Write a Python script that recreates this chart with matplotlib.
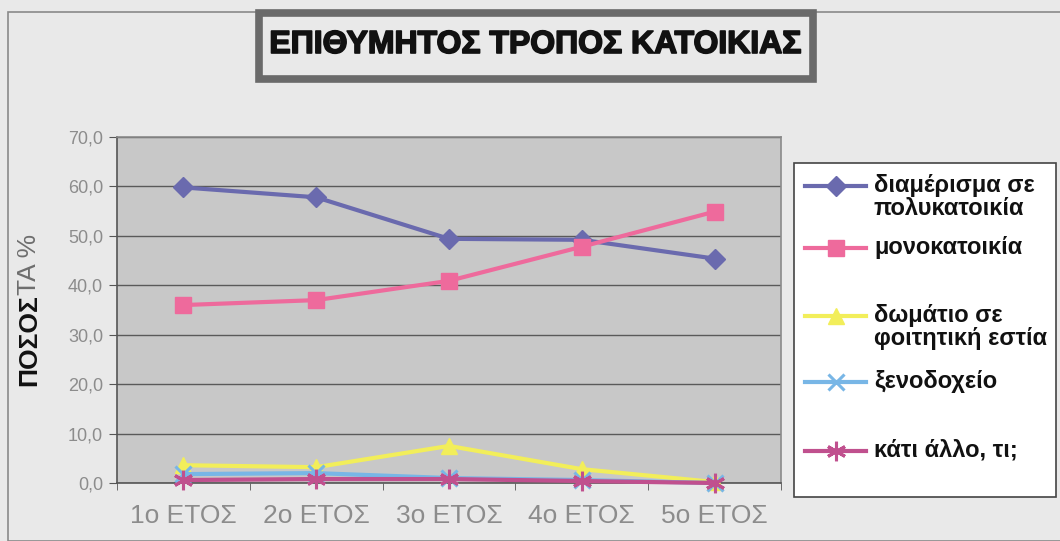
import matplotlib
matplotlib.use('Agg')
import matplotlib.pyplot as plt
import matplotlib.patches as patches
import matplotlib.patheffects as pe
from matplotlib.lines import Line2D
import numpy as np

plt.rcParams['font.family'] = ['Liberation Sans', 'DejaVu Sans']

years = ["1ο ΕΤΟΣ", "2ο ΕΤΟΣ", "3ο ΕΤΟΣ", "4ο ΕΤΟΣ", "5ο ΕΤΟΣ"]
series_names = ["διαμέρισμα σε\nπολυκατοικία", "μονοκατοικία",
                "δωμάτιο σε\nφοιτητική εστία", "ξενοδοχείο", "κάτι άλλο, τι;"]
apartment = [59.8, 57.8, 49.4, 49.2, 45.4]
house = [36.0, 37.0, 40.9, 47.8, 54.9]
dorm = [3.6, 3.2, 7.5, 2.8, 0.2]
hotel = [1.8, 2.0, 1.0, 0.6, 0.0]
other = [0.6, 0.8, 0.8, 0.4, 0.0]
y_ticks = [0, 10, 20, 30, 40, 50, 60, 70]

series = [apartment, house, dorm, hotel, other]
colors = ["#6a6aae", "#ee6a9c", "#f2ee5a", "#78b6e6", "#c0508e"]
markers = ["D", "s", "^", "x", (6, 2, 0)]
msizes = [10, 11, 11, 11, 14]

paper = "#e9e9e9"
fig = plt.figure(figsize=(10.6, 5.41), dpi=100, facecolor=paper)


def fx(px):
    return px / 1060


def fy(py):
    return 1 - py / 541


# outer chart frame
fig.add_artist(patches.Rectangle((fx(8), 0.0), 1.2, fy(12),
                                 transform=fig.transFigure, fill=False,
                                 edgecolor="#8a8a8a", lw=1.2))

ax = fig.add_axes([fx(117), fy(483), 664 / 1060, 346 / 541])
ax.set_facecolor("#c8c8c8")
x = np.arange(len(years))
for vals, c, m, ms in zip(series, colors, markers, msizes):
    ax.plot(x, vals, color=c, lw=3, marker=m, markersize=ms,
            markeredgewidth=2.2 if m in ("x", (6, 2, 0)) else 1,
            markeredgecolor=c, markerfacecolor=c, clip_on=False, zorder=3)

ax.set_xlim(-0.5, len(years) - 0.5)
ax.set_ylim(0, 70)
ax.set_yticks(y_ticks)
ax.set_yticklabels([f"{v:.1f}".replace(".", ",") for v in y_ticks],
                   fontsize=13, color="#8c8c8c")
ax.set_xticks(x)
ax.set_xticklabels(years, fontsize=19, color="#8c8c8c")
ax.set_xticks(np.arange(-0.5, len(years)), minor=True)
ax.tick_params(axis="x", which="major", length=0, pad=15)
ax.tick_params(axis="x", which="minor", length=5, color="#555555")
ax.tick_params(axis="y", length=6, color="#555555", pad=4)
ax.grid(axis="y", color="#5a5a5a", lw=1)
ax.set_axisbelow(True)
for side, sp in ax.spines.items():
    sp.set_color("#8a8a8a" if side in ("top", "right") else "#555555")
    sp.set_linewidth(1.2)

# y axis label, two-tone
fig.text(fx(29), fy(340), "ΠΟΣΟΣ", rotation=90, ha="center",
         va="center", fontsize=19, fontweight="bold", color="#111111")
fig.text(fx(29), fy(264), "ΤΑ %", rotation=90, ha="center",
         va="center", fontsize=19, color="#6e6e6e")

# title box with heavy lettering
fig.add_artist(patches.Rectangle((fx(259), fy(79)), 554 / 1060, 66 / 541,
                                 transform=fig.transFigure, facecolor=paper,
                                 edgecolor="#6a6a6a", lw=5.5))
fig.text(fx(536), fy(45), "ΕΠΙΘΥΜΗΤΟΣ ΤΡΟΠΟΣ ΚΑΤΟΙΚΙΑΣ", ha="center",
         va="center", fontsize=23, fontweight="bold", color="#111111",
         path_effects=[pe.withStroke(linewidth=1.2, foreground="#111111")])

# legend box
fig.add_artist(patches.Rectangle((fx(794), fy(497)), 262 / 1060, 334 / 541,
                                 transform=fig.transFigure, facecolor="white",
                                 edgecolor="#444444", lw=1.2))
legend_y = [186, 248, 316, 382, 451]
for name, c, m, ms, ly in zip(series_names, colors, markers, msizes, legend_y):
    fig.add_artist(Line2D([fx(805), fx(866)], [fy(ly), fy(ly)], transform=fig.transFigure,
                          color=c, lw=3))
    fig.add_artist(Line2D([fx(836)], [fy(ly)], transform=fig.transFigure, color=c,
                          marker=m, markersize=ms, markerfacecolor=c, markeredgecolor=c,
                          markeredgewidth=2.2 if m in ("x", (6, 2, 0)) else 1))
    fig.text(fx(874), fy(ly - 12), name, ha="left", va="top", fontsize=17,
             fontweight="bold", color="#111111", linespacing=1.0)

fig.savefig("out.png", dpi=100, facecolor=paper)
